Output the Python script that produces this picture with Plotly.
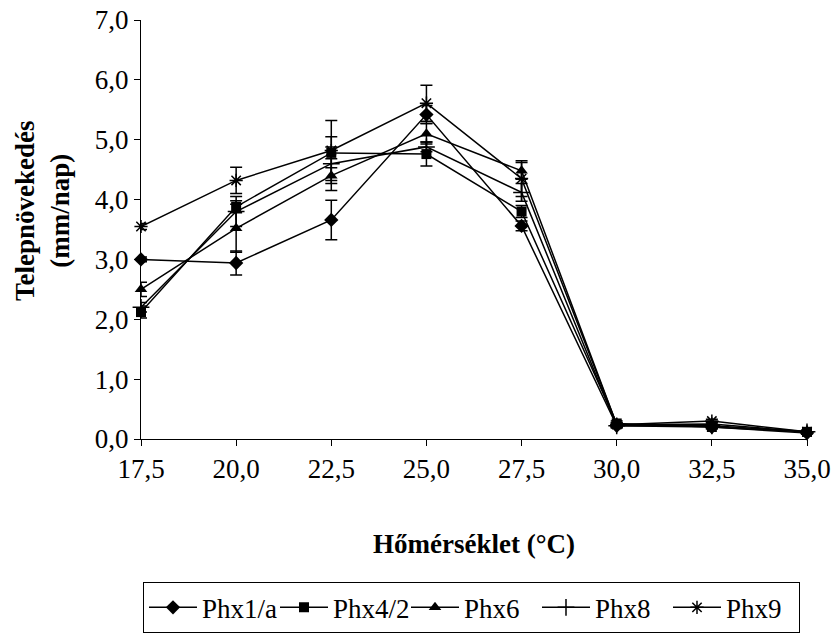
import plotly.graph_objects as go

temps = [17.5, 20.0, 22.5, 25.0, 27.5, 30.0, 32.5, 35.0]
tick_labels = ["17,5", "20,0", "22,5", "25,0", "27,5", "30,0", "32,5", "35,0"]

phx1a = [3.00, 2.94, 3.66, 5.42, 3.56, 0.22, 0.20, 0.10]
phx1a_err = [0.04, 0.20, 0.33, 0.15, 0.08, 0.03, 0.03, 0.02]

phx42 = [2.12, 3.88, 4.78, 4.76, 3.80, 0.26, 0.20, 0.12]
phx42_err = [0.10, 0.10, 0.10, 0.20, 0.10, 0.04, 0.03, 0.02]

phx6 = [2.50, 3.52, 4.40, 5.10, 4.48, 0.24, 0.25, 0.12]
phx6_err = [0.12, 0.40, 0.13, 0.17, 0.14, 0.03, 0.03, 0.02]

phx8 = [2.20, 3.80, 4.60, 4.88, 4.12, 0.22, 0.22, 0.12]
phx8_err = [0.08, 0.25, 0.45, 0.08, 0.15, 0.03, 0.03, 0.02]

phx9 = [3.55, 4.32, 4.82, 5.61, 4.35, 0.24, 0.30, 0.12]
phx9_err = [0.05, 0.22, 0.50, 0.30, 0.30, 0.03, 0.03, 0.02]

y_ticks = [0, 1, 2, 3, 4, 5, 6, 7]
y_tick_labels = ["0,0", "1,0", "2,0", "3,0", "4,0", "5,0", "6,0", "7,0"]

series = [
    ("Phx1/a", phx1a, phx1a_err, "diamond", 11, 0),
    ("Phx4/2", phx42, phx42_err, "square", 10, 0),
    ("Phx6", phx6, phx6_err, "triangle-up", 11, 0),
    ("Phx8", phx8, phx8_err, "cross-thin", 12, 1.5),
    ("Phx9", phx9, phx9_err, "asterisk-open", 11, 1.5),
]

FONT = "Liberation Serif"

fig = go.Figure()
for name, vals, err, sym, size, lw in series:
    fig.add_trace(go.Scatter(
        x=temps, y=vals, name=name, mode="lines+markers",
        line=dict(color="black", width=1.5),
        marker=dict(symbol=sym, size=size, color="black",
                    line=dict(color="black", width=lw)),
        error_y=dict(type="data", array=err, visible=True,
                     color="black", thickness=1.5, width=6),
        cliponaxis=False,
    ))

fig.update_layout(
    width=836, height=633,
    paper_bgcolor="white", plot_bgcolor="white",
    margin=dict(l=141, r=29, t=20, b=194, autoexpand=False),
    font=dict(family=FONT, size=27, color="black"),
    showlegend=True,
    legend=dict(
        orientation="h", x=0.003, xanchor="left", y=-0.342, yanchor="top",
        bordercolor="black", borderwidth=1, bgcolor="white",
        font=dict(family=FONT, size=27, color="black"),
        itemwidth=48, tracegroupgap=0,
        entrywidth=68, entrywidthmode="pixels",
    ),
    xaxis=dict(
        range=[17.5, 35.0], tickvals=temps, ticktext=tick_labels,
        showgrid=False, zeroline=False, showline=True, linecolor="black",
        linewidth=1, ticks="outside", ticklen=6, tickcolor="black",
        tickfont=dict(size=27), fixedrange=True, automargin=False,
        title=dict(text="<b>Hőmérséklet (°C)</b>", font=dict(size=27), standoff=50),
    ),
    yaxis=dict(
        range=[0, 7], tickvals=y_ticks, ticktext=y_tick_labels,
        showgrid=False, zeroline=False, showline=True, linecolor="black",
        linewidth=1, ticks="outside", ticklen=6, tickcolor="black",
        tickfont=dict(size=27), automargin=False, fixedrange=True,
    ),
    annotations=[dict(
        text="<b>Telepnövekedés<br>(mm/nap)</b>", xref="paper", yref="paper",
        x=-0.148, y=0.545, xanchor="center", yanchor="middle", textangle=-90,
        showarrow=False, font=dict(family=FONT, size=27, color="black"),
    )],
)

fig.write_html(
    "out.html",
    config={"displayModeBar": False},
    post_script="document.body.style.margin='0';document.body.style.overflow='hidden';",
)
